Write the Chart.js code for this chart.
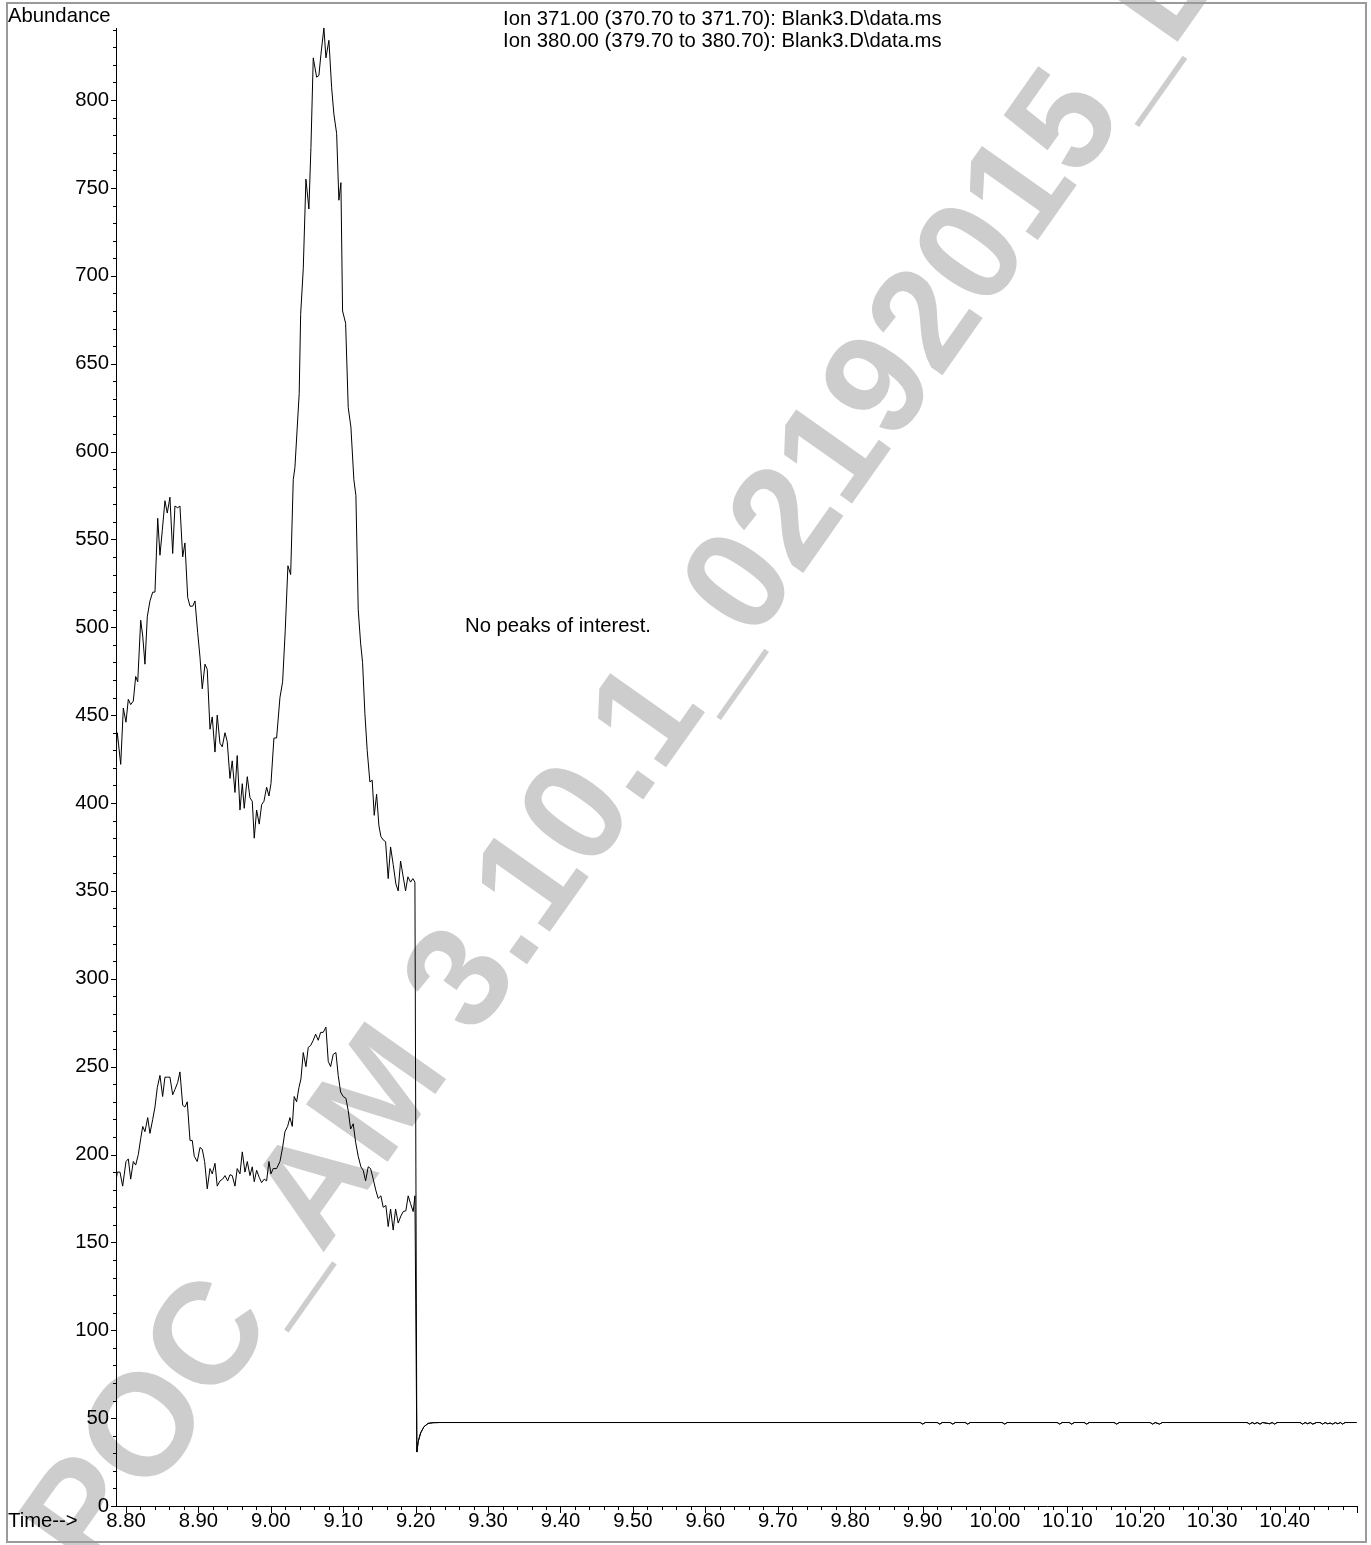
<!DOCTYPE html>
<html>
<head>
<meta charset="utf-8">
<title>Ion chromatogram - Blank3.D</title>
<script src="https://cdn.jsdelivr.net/npm/chart.js@4.4.1/dist/chart.umd.min.js"></script>
<style>
  html, body { margin: 0; padding: 0; background: #fff; }
  #wrap { position: relative; width: 1371px; height: 1545px; }
</style>
</head>
<body>
<div id="wrap"><canvas id="ionChart"></canvas></div>
<script>
// --- DATA ---

// Ion 371.00 trace, before the drop at ~9.20 min
const ion371Time = [8.7848, 8.7880, 8.7927, 8.7963, 8.8000, 8.8032, 8.8065, 8.8101, 8.8134, 8.8162,
  8.8203, 8.8231, 8.8262, 8.8294, 8.8331, 8.8369, 8.8400, 8.8438, 8.8469, 8.8501,
  8.8538, 8.8570, 8.8607, 8.8645, 8.8676, 8.8714, 8.8745, 8.8783, 8.8814, 8.8852,
  8.8884, 8.8921, 8.8953, 8.8990, 8.9022, 8.9053, 8.9091, 8.9122, 8.9160, 8.9191,
  8.9229, 8.9260, 8.9298, 8.9329, 8.9367, 8.9398, 8.9436, 8.9467, 8.9505, 8.9536,
  8.9574, 8.9606, 8.9633, 8.9675, 8.9712, 8.9744, 8.9771, 8.9804, 8.9840, 8.9873,
  8.9905, 8.9942, 8.9974, 9.0002, 9.0043, 9.0080, 9.0126, 9.0163, 9.0199, 9.0236,
  9.0274, 9.0310, 9.0333, 9.0392, 9.0412, 9.0448, 9.0485, 9.0526, 9.0554, 9.0586,
  9.0633, 9.0664, 9.0692, 9.0733, 9.0761, 9.0802, 9.0840, 9.0871, 9.0909, 9.0940,
  9.0968, 9.0991, 9.1033, 9.1069, 9.1106, 9.1147, 9.1175, 9.1207, 9.1240, 9.1267,
  9.1299, 9.1331, 9.1368, 9.1400, 9.1428, 9.1461, 9.1493, 9.1520, 9.1552, 9.1585,
  9.1621, 9.1654, 9.1690, 9.1727, 9.1759, 9.1792, 9.1824, 9.1861, 9.1893, 9.1930,
  9.1962, 9.1990];
const ion371Abund = [423, 440, 422, 454, 446, 459, 456, 458, 472, 469,
  504, 495, 479, 506, 515, 520, 520, 562, 541, 555,
  572, 565, 574, 542, 569, 568, 569, 540, 548, 517,
  512, 512, 515, 497, 483, 465, 479, 476, 442, 449,
  429, 450, 434, 432, 440, 435, 414, 424, 406, 427,
  396, 411, 397, 415, 403, 401, 380, 396, 388, 399,
  401, 409, 404, 411, 437, 437, 460, 469, 498, 535,
  530, 584, 591, 633, 678, 704, 755, 738, 773, 824,
  813, 814, 826, 841, 824, 834, 807, 792, 781, 743,
  753, 680, 673, 625, 614, 584, 575, 510, 491, 480,
  451, 430, 412, 413, 393, 405, 387, 381, 379, 378,
  357, 375, 365, 354, 350, 367, 359, 350, 358, 355,
  357, 355];

// Ion 380.00 trace, before the drop
const ion380Time = [8.7848, 8.7880, 8.7917, 8.7954, 8.8000, 8.8032, 8.8065, 8.8101, 8.8134, 8.8170,
  8.8203, 8.8231, 8.8262, 8.8300, 8.8331, 8.8369, 8.8400, 8.8432, 8.8469, 8.8506,
  8.8538, 8.8576, 8.8607, 8.8645, 8.8676, 8.8714, 8.8745, 8.8783, 8.8814, 8.8846,
  8.8884, 8.8915, 8.8943, 8.8984, 8.9022, 8.9053, 8.9086, 8.9122, 8.9160, 8.9191,
  8.9229, 8.9260, 8.9298, 8.9335, 8.9367, 8.9404, 8.9436, 8.9467, 8.9505, 8.9536,
  8.9574, 8.9606, 8.9643, 8.9675, 8.9712, 8.9744, 8.9771, 8.9804, 8.9840, 8.9873,
  8.9909, 8.9942, 8.9974, 9.0002, 9.0033, 9.0080, 9.0126, 9.0163, 9.0195, 9.0232,
  9.0264, 9.0296, 9.0323, 9.0356, 9.0388, 9.0416, 9.0448, 9.0485, 9.0517, 9.0550,
  9.0586, 9.0619, 9.0655, 9.0688, 9.0724, 9.0761, 9.0793, 9.0826, 9.0862, 9.0899,
  9.0931, 9.0964, 9.1000, 9.1037, 9.1069, 9.1102, 9.1138, 9.1171, 9.1207, 9.1244,
  9.1276, 9.1309, 9.1345, 9.1378, 9.1414, 9.1451, 9.1483, 9.1520, 9.1552, 9.1589,
  9.1621, 9.1654, 9.1690, 9.1723, 9.1759, 9.1796, 9.1828, 9.1865, 9.1897, 9.1930,
  9.1966, 9.1990];
const ion380Abund = [180.5, 190, 190, 182, 196, 197.5, 186, 196, 194, 200,
  209, 216, 213, 221, 212, 220, 227, 238, 245, 233,
  244, 244, 244, 234, 237, 241, 247, 228, 227, 230,
  208, 208, 199, 196, 204, 203, 196, 180.5, 192, 189,
  195, 182, 185, 186, 188, 185, 188.5, 188, 182, 192,
  189, 201.5, 190, 196, 188, 193, 184.5, 191, 187, 184,
  186, 185, 196, 189, 192, 192, 196, 204, 213, 216,
  221, 216, 233, 230, 238, 243, 258, 250, 261, 262,
  265, 268.5, 265, 269.5, 269.5, 272.5, 253, 250, 257, 258,
  245, 235.5, 233, 232, 225, 214.5, 217.5, 207, 199, 193,
  191, 185, 193, 192, 186, 179.5, 175, 176.5, 170, 171,
  159, 169, 157, 169, 161, 165, 167.5, 168, 176.5, 172,
  167.5, 176.5];

// common tail after the drop (both traces sit on top of each other)
const tailTime = [9.2017, 9.2035, 9.2068, 9.2114, 9.2173, 9.2242, 9.2335,
  9.8968, 9.9003, 9.9038, 9.9203, 9.9238, 9.9273, 9.9382, 9.9417, 9.9452,
  9.9589, 9.9624, 9.9659, 10.0100, 10.0135, 10.0170, 10.0859, 10.0894, 10.0929,
  10.1025, 10.1060, 10.1095, 10.1232, 10.1267, 10.1302, 10.1646, 10.1681, 10.1716,
  10.2143, 10.2178, 10.2213, 10.2274, 10.2309, 10.3482, 10.3517, 10.3552, 10.3587,
  10.3622, 10.3662, 10.3697, 10.3793, 10.3828, 10.3863, 10.3898, 10.3931, 10.4214,
  10.4249, 10.4284, 10.4319, 10.4354, 10.4389, 10.4442, 10.4490, 10.4525, 10.4560,
  10.4595, 10.4630, 10.4665, 10.4700, 10.4735, 10.4770, 10.4801, 10.4836, 10.4994];
const tailAbund = [30.7, 36.6, 41.5, 45.1, 47.0, 47.4, 47.5,
  47.5, 46.6, 47.5, 47.5, 46.6, 47.5, 47.5, 46.6, 47.5,
  47.5, 46.6, 47.5, 47.5, 46.6, 47.5, 47.5, 46.6, 47.5,
  47.5, 46.6, 47.5, 47.5, 46.6, 47.5, 47.5, 46.6, 47.5,
  47.5, 46.6, 47.5, 46.6, 47.5, 47.5, 46.6, 47.5, 46.8,
  47.5, 46.6, 47.5, 46.8, 47.5, 46.6, 47.5, 47.5, 47.5,
  46.6, 47.5, 46.8, 47.5, 46.6, 47.5, 47.5, 46.6, 47.5,
  46.8, 47.2, 46.6, 47.5, 46.8, 47.5, 46.6, 47.5, 47.5];

// axes
const xMajorTicks = [8.80, 8.90, 9.00, 9.10, 9.20, 9.30, 9.40, 9.50, 9.60, 9.70,
  9.80, 9.90, 10.00, 10.10, 10.20, 10.30, 10.40];
const yMajorTicks = [0, 50, 100, 150, 200, 250, 300, 350, 400, 450, 500, 550,
  600, 650, 700, 750, 800];
const xMin = 8.7862, xMax = 10.50;
const yMin = 0, yMax = 841;

const titleLines = ['Ion 371.00 (370.70 to 371.70): Blank3.D\\data.ms',
  'Ion 380.00 (379.70 to 380.70): Blank3.D\\data.ms'];
const noteText = 'No peaks of interest.';
const watermarkText = 'POC_AM 3.10.1_02192015_L';

const FAMILY = '"Liberation Sans", Arial, Helvetica, sans-serif';
const FONT = '20.3px ' + FAMILY;

function toPoints(t, v) {
  return t.map((x, i) => ({ x: x, y: v[i] }));
}

// --- DECORATION PLUGIN: watermark, frame, minor ticks, labels ---
const decorPlugin = {
  id: 'decor',
  beforeDraw(chart) {
    const ctx = chart.ctx;
    ctx.save();
    ctx.fillStyle = '#fff';
    ctx.fillRect(0, 0, chart.width, chart.height);
    // big grey watermark, runs bottom-left to top-right
    ctx.translate(94, 1578);
    ctx.rotate(-54.8 * Math.PI / 180);
    ctx.fillStyle = 'rgb(205,205,205)';
    ctx.font = 'bold 145px ' + FAMILY;
    ctx.fillText(watermarkText, 0, 0);
    ctx.restore();
  },
  afterDraw(chart) {
    const { ctx, chartArea: a } = chart;
    const xs = chart.scales.x, ys = chart.scales.y;
    ctx.save();

    // outer frame
    ctx.strokeStyle = '#9a9a9a';
    ctx.lineWidth = 2;
    ctx.strokeRect(7, 3, 1359, 1539);

    // tick marks (major + minor)
    ctx.strokeStyle = '#000';
    ctx.lineWidth = 1;
    ctx.beginPath();
    for (let v = yMin; v <= yMax; v += 10) {
      const py = Math.round(ys.getPixelForValue(v)) + 0.5;
      const len = (v % 50 === 0) ? 5 : 3;
      ctx.moveTo(a.left - len, py);
      ctx.lineTo(a.left, py);
    }
    for (let k = 0; k <= 85; k++) {
      const v = 8.80 + k * 0.02;
      if (v > xMax + 1e-6) break;
      const px = Math.round(xs.getPixelForValue(v)) + 0.5;
      const len = (k % 5 === 0) ? 7 : 4;
      ctx.moveTo(px, a.bottom);
      ctx.lineTo(px, a.bottom + len);
    }
    ctx.stroke();

    // texts
    ctx.fillStyle = '#000';
    ctx.font = FONT;
    ctx.textBaseline = 'alphabetic';
    ctx.textAlign = 'left';
    ctx.fillText('Abundance', 8, 22);
    ctx.fillText(titleLines[0], 503, 25);
    ctx.fillText(titleLines[1], 503, 47);
    ctx.fillText(noteText, 465, 632);
    ctx.fillText('Time-->', 8, 1527);
    ctx.restore();
  }
};

// --- CHART ---
const ctx = document.getElementById('ionChart').getContext('2d');
const chart = new Chart(ctx, {
  type: 'line',
  data: {
    datasets: [{
      label: 'Ion 371.00',
      data: toPoints(ion371Time.concat(tailTime), ion371Abund.concat(tailAbund)),
      borderColor: '#000',
      borderWidth: 1,
      pointRadius: 0,
      tension: 0,
      fill: false
    }, {
      label: 'Ion 380.00',
      data: toPoints(ion380Time.concat(tailTime), ion380Abund.concat(tailAbund)),
      borderColor: '#000',
      borderWidth: 1,
      pointRadius: 0,
      tension: 0,
      fill: false
    }]
  },
  options: {
    responsive: true,
    maintainAspectRatio: false,
    animation: false,
    devicePixelRatio: 1,
    layout: { padding: { left: 0, right: 14, top: 28, bottom: 0 } },
    plugins: {
      legend: { display: false },
      tooltip: { enabled: false }
    },
    scales: {
      x: {
        type: 'linear',
        min: xMin,
        max: xMax,
        grid: { display: false, drawTicks: false },
        border: { display: true, color: '#000', width: 1 },
        afterBuildTicks: s => { s.ticks = xMajorTicks.map(v => ({ value: v })); },
        afterFit: s => { s.height = 39; },
        ticks: {
          autoSkip: false,
          maxRotation: 0,
          padding: 3,
          color: '#000',
          font: { family: FAMILY, size: 20.3 },
          callback: v => Number(v).toFixed(2)
        }
      },
      y: {
        type: 'linear',
        min: yMin,
        max: yMax,
        grid: { display: false, drawTicks: false },
        border: { display: true, color: '#000', width: 1 },
        afterBuildTicks: s => { s.ticks = yMajorTicks.map(v => ({ value: v })); },
        afterFit: s => { s.width = 116; },
        ticks: {
          autoSkip: false,
          padding: 7,
          color: '#000',
          font: { family: FAMILY, size: 20.3 },
          callback: v => String(v)
        }
      }
    }
  },
  plugins: [decorPlugin]
});
</script>
</body>
</html>
